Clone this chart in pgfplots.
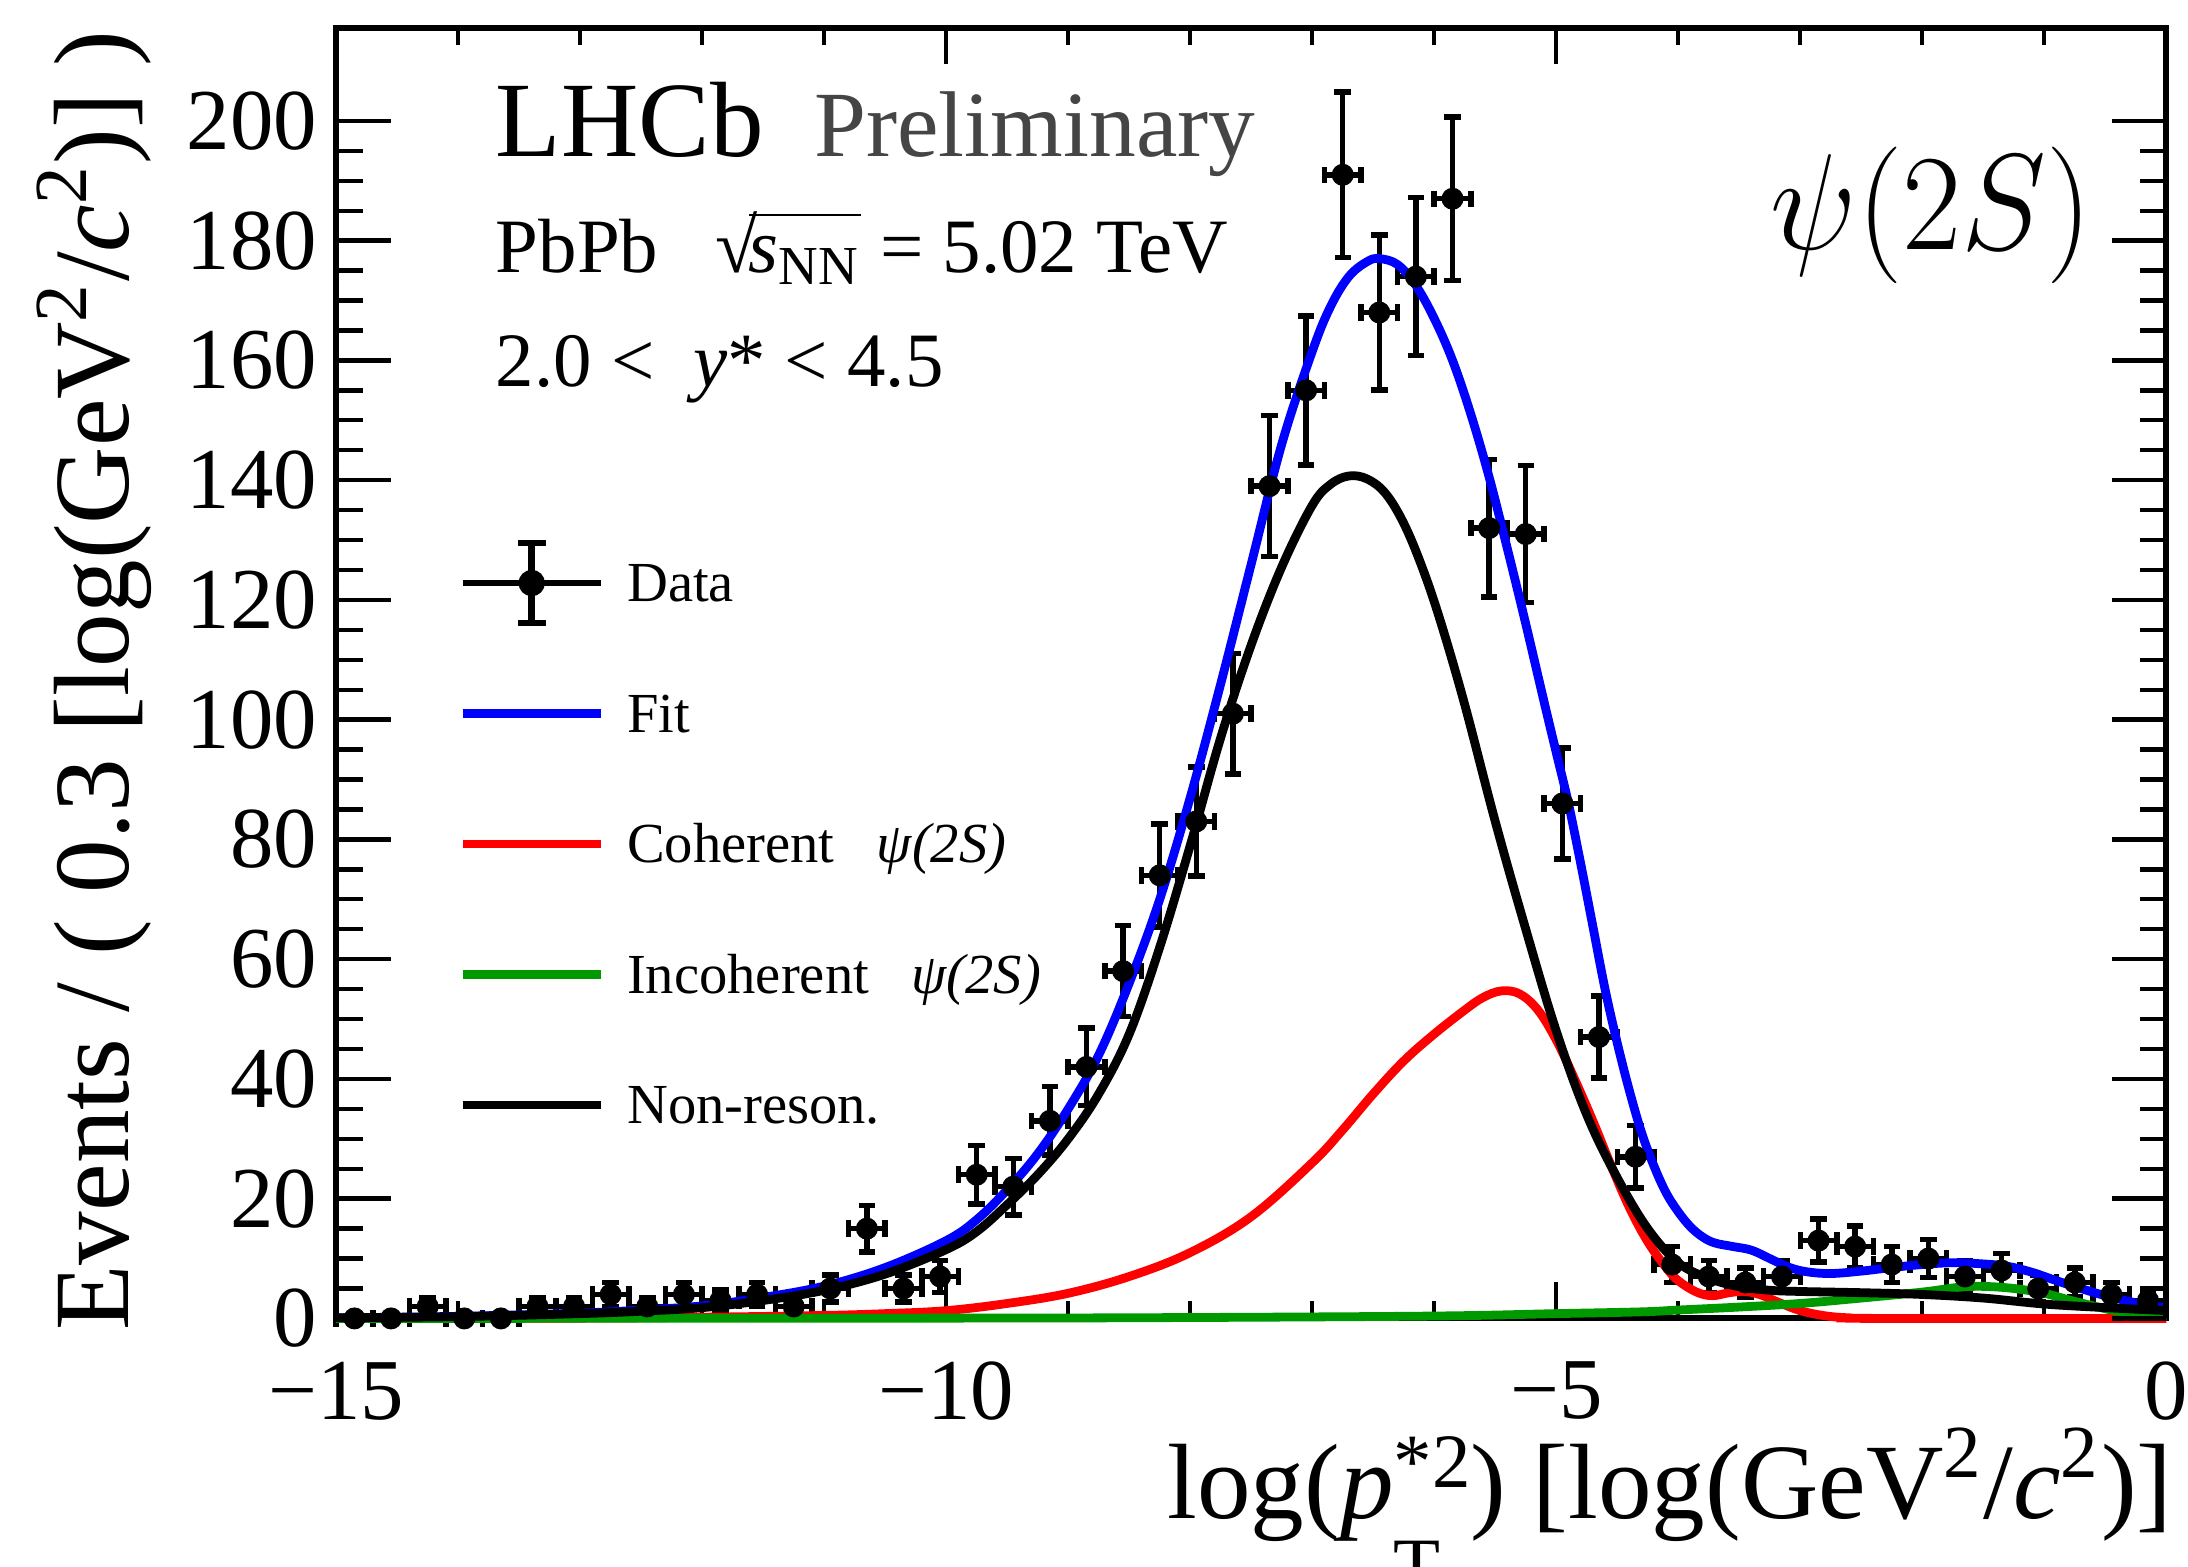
\documentclass[border=0pt]{standalone}
\usepackage{graphicx}
\usepackage{fontspec}
\setmainfont{Liberation Serif}
\usepackage{pgfplots}
\pgfplotsset{compat=1.18}
\usepackage{pgfplotstable}
\definecolor{rootgreen}{rgb}{0,0.6,0}
\definecolor{prelimgray}{rgb}{0.27,0.27,0.27}
\newcommand{\ticksize}{\fontsize{15.8}{18}\selectfont}
\newcommand{\labsize}{\fontsize{19.5}{22}\selectfont}
\newcommand{\legsize}{\fontsize{10.3}{12}\selectfont}

\pgfplotstableread{
x y ex ey
-14.85 0 0.15 0
-14.55 0 0.15 0
-14.25 2 0.15 1.414
-13.95 0 0.15 0
-13.65 0 0.15 0
-13.35 2 0.15 1.414
-13.05 2 0.15 1.414
-12.75 4 0.15 2
-12.45 2 0.15 1.414
-12.15 4 0.15 2
-11.85 3 0.15 1.732
-11.55 4 0.15 2
-11.25 2 0.15 1.414
-10.95 5 0.15 2.236
-10.65 15 0.15 3.873
-10.35 5 0.15 2.236
-10.05 7 0.15 2.646
-9.75 24 0.15 4.899
-9.45 22 0.15 4.690
-9.15 33 0.15 5.745
-8.85 42 0.15 6.481
-8.55 58 0.15 7.616
-8.25 74 0.15 8.602
-7.95 83 0.15 9.110
-7.65 101 0.15 10.05
-7.35 139 0.15 11.79
-7.05 155 0.15 12.45
-6.75 191 0.15 13.82
-6.45 168 0.15 12.96
-6.15 174 0.15 13.19
-5.85 187 0.15 13.67
-5.55 132 0.15 11.49
-5.25 131 0.15 11.45
-4.95 86 0.15 9.274
-4.65 47 0.15 6.856
-4.35 27 0.15 5.196
-4.05 9 0.15 3
-3.75 7 0.15 2.646
-3.45 6 0.15 2.449
-3.15 7 0.15 2.646
-2.85 13 0.15 3.606
-2.55 12 0.15 3.464
-2.25 9 0.15 3
-1.95 10 0.15 3.162
-1.65 7 0.15 2.646
-1.35 8 0.15 2.828
-1.05 5 0.15 2.236
-0.75 6 0.15 2.449
-0.45 4 0.15 2
-0.15 3 0.15 1.732
}\datatab

\pgfplotstableread{
x y
-15 0.1
-14 0.35
-13 0.9
-12.5 1.4
-12 2.1
-11.5 3.5
-11 5.4
-10.5 8.5
-10 13
-9.75 16.5
-9.5 21.5
-9.25 27.5
-9 35
-8.75 44
-8.5 56
-8.25 70
-8 87
-7.75 106
-7.5 126
-7.25 146
-7 161.5
-6.85 169
-6.7 174
-6.55 176.5
-6.45 177
-6.3 176
-6.15 172.5
-6 167
-5.85 160
-5.7 151
-5.55 140.5
-5.4 128.5
-5.25 116
-5.1 103
-5 94.5
-4.9 86
-4.8 76
-4.7 65.5
-4.6 55
-4.5 46
-4.4 38
-4.3 31
-4.2 25.5
-4.1 21
-4 17.8
-3.9 15.3
-3.8 13.6
-3.7 12.6
-3.55 12
-3.4 11.4
-3.25 10
-3.1 8.6
-2.95 7.8
-2.75 7.5
-2.5 7.9
-2.25 8.5
-2 9.0
-1.75 9.3
-1.5 9.1
-1.3 8.7
-1.1 7.7
-0.9 6.3
-0.7 5.0
-0.5 3.8
-0.25 2.6
0 1.7
}\fittab

\pgfplotstableread{
x y
-15 0
-13 0.05
-12 0.2
-11 0.5
-10.5 0.8
-10 1.3
-9.5 2.5
-9 4.2
-8.5 7
-8 11
-7.5 17
-7 26
-6.75 31.5
-6.5 37.5
-6.25 43
-6 47.5
-5.75 51.5
-5.6 53.6
-5.45 54.7
-5.3 54.2
-5.15 51.5
-5 46.5
-4.85 40
-4.7 33
-4.55 25.5
-4.4 18.5
-4.25 12.8
-4.1 8.5
-4 6.3
-3.85 4.4
-3.72 3.8
-3.58 4.3
-3.45 4.5
-3.32 3.9
-3.18 2.7
-3.0 1.3
-2.8 0.45
-2.6 0.1
-2.3 0
0 0
}\cohtab

\pgfplotstableread{
x y
-15 0
-10 0.05
-8 0.15
-6 0.4
-5 0.8
-4.3 1.1
-4 1.4
-3.5 1.9
-3 2.5
-2.5 3.4
-2 4.4
-1.7 5.2
-1.5 5.35
-1.25 5.0
-1 4.2
-0.8 3.1
-0.6 2.1
-0.4 1.2
-0.2 0.7
0 0.4
}\inctab

\pgfplotstableread{
x y
-15 0.1
-14 0.3
-13 0.8
-12.5 1.2
-12 1.8
-11.5 3.0
-11 4.7
-10.5 7.4
-10 11.5
-9.75 14.5
-9.5 19
-9.25 24
-9 30
-8.75 37.5
-8.5 47.5
-8.25 62
-8 79
-7.75 97
-7.5 112.5
-7.25 125.5
-7 135.8
-6.85 139.3
-6.7 140.7
-6.55 140.2
-6.4 137.8
-6.25 132.8
-6.1 125.5
-5.95 116.5
-5.75 102.5
-5.5 83
-5.25 65
-5 48
-4.75 34
-4.5 23.5
-4.25 15
-4 9.3
-3.75 6.7
-3.5 5.3
-3.25 4.7
-3 4.5
-2.5 4.3
-2 4.0
-1.5 3.4
-1 2.4
-0.5 1.8
0 1.3
}\nrtab

\begin{document}
\begin{tikzpicture}
\pgfplotsset{
  common/.style={scale only axis, width=11.71cm, height=8.256cm,
    xmin=-15, xmax=0, ymin=0, ymax=215.5, at={(0,0)}, anchor=south west,
    clip=false, axis line style={line width=1.1pt},
    tick align=inside, xtick pos=both, ytick pos=both,
    every tick/.style={line width=0.8pt, black},
    xtick={-15,-10,-5,0}, minor x tick num=4,
    ytick={0,20,...,200}, minor y tick num=3},
  linecurve/.style={line width=1.6pt, smooth, tension=0.6,
    legend image code/.code={\draw[##1, line width=1.6pt] (0cm,0.12cm) -- (0.885cm,0.12cm);}}
}
\begin{axis}[common,
  major tick length=0.23cm, minor tick length=0.11cm,
  major y tick style={draw=none}, minor y tick style={draw=none},
  xticklabels={−15,−10,−5,0},
  /pgf/number format/assume math mode=true,
  tick label style={font=\ticksize},
  yticklabel style={anchor=east, inner sep=0pt, xshift=-0.115cm},
  xticklabel style={anchor=north, inner sep=0pt, yshift=-0.27cm},
  xlabel={log(\textit{p}\rlap{\raisebox{-0.47cm}{\fontsize{14}{14}\selectfont T}}\raisebox{0.2cm}{\fontsize{14}{14}\selectfont *2}) [log(GeV\textsuperscript{2}/\textit{c}\textsuperscript{2})]},
  xlabel style={at={(axis description cs:1.004,-0.155)}, anchor=base east, inner sep=0pt, font=\labsize},
  ylabel={Events / ( 0.3 [log(GeV\textsuperscript{2}/\textit{c}\textsuperscript{2})] )},
  ylabel style={at={(axis description cs:-0.1136,0.999)}, anchor=base east, inner sep=0pt, font=\labsize},
  legend style={at={(axis cs:-14.0,76.1)}, anchor=west, draw=none, fill=none,
    inner sep=0pt, outer sep=0pt, font=\legsize, row sep=0.035cm,
    nodes={inner sep=0pt, text height=0.4cm, text depth=0.4cm},
    /tikz/every odd column/.append style={column sep=0.14cm}},
  legend cell align=left,
]
\addplot[black, only marks, mark=*, mark size=1.8pt,
  legend image code/.code={
    \draw[black, line width=1.2pt] (0cm,0.12cm) -- (0.885cm,0.12cm);
    \draw[black, line width=1.2pt] (0.4425cm,-0.136cm) -- (0.4425cm,0.376cm);
    \draw[black, line width=1.2pt] (0.3525cm,0.376cm) -- (0.5325cm,0.376cm);
    \draw[black, line width=1.2pt] (0.3525cm,-0.136cm) -- (0.5325cm,-0.136cm);
    \fill[black] (0.4425cm,0.12cm) circle (2.2pt);},
  error bars/.cd, x dir=both, x explicit, y dir=both, y explicit,
  error bar style={line width=1pt, black},
  error mark options={rotate=90, line width=1pt, mark size=1.5pt, black}]
  table[x=x, y=y, x error=ex, y error=ey]{\datatab};
\addlegendentry{Data}
\addplot[linecurve, blue] table[x=x,y=y]{\fittab};
\addlegendentry{Fit}
\addplot[linecurve, red] table[x=x,y=y]{\cohtab};
\addlegendentry{Coherent~~~\textit{ψ(2S)}}
\addplot[linecurve, rootgreen] table[x=x,y=y]{\inctab};
\addlegendentry{Incoherent~~~\textit{ψ(2S)}}
\addplot[linecurve, black] table[x=x,y=y]{\nrtab};
\addlegendentry{Non-reson.}

\node[anchor=base west, inner sep=0pt, font=\fontsize{19.5}{22}\selectfont] at (axis cs:-13.70,194.1) {LHCb};
\node[anchor=base west, inner sep=0pt, text=prelimgray, font=\fontsize{17}{20}\selectfont] at (axis cs:-11.09,194.1) {Preliminary};
\node[anchor=base west, inner sep=0pt, font=\fontsize{14}{17}\selectfont] at (axis cs:-13.70,174.6) {PbPb~~~√\kern-0.12em$\overline{\mbox{\vphantom{T}\textit{s}}_{\mbox{\fontsize{10}{10}\selectfont NN}}}$ = 5.02 TeV};
\node[anchor=base west, inner sep=0pt, font=\fontsize{14}{17}\selectfont] at (axis cs:-13.70,155.6) {2.0 <~~\textit{y}* < 4.5};
\node[anchor=base west, inner sep=0pt, font=\fontsize{20.74}{24}\selectfont] at (axis cs:-3.25,178.5) {\scalebox{1.128}[1.2]{$\psi(2S)$}};
\end{axis}
\begin{axis}[common, hide x axis,
  major tick length=0.35cm, minor tick length=0.17cm,
  yticklabels={}]
\end{axis}
\pgfresetboundingbox
\path (-2.151cm,-1.59cm) rectangle (11.849cm,8.436cm);
\end{tikzpicture}
\end{document}
